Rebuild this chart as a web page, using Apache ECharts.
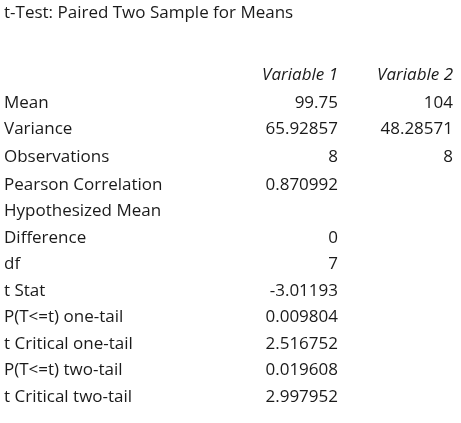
<!DOCTYPE html>
<html>
<head>
<meta charset="utf-8">
<script src="https://cdn.jsdelivr.net/npm/echarts@6/dist/echarts.min.js"></script>
<style>html,body{margin:0;padding:0;background:#fff;}</style>
</head>
<body>
<div id="container" style="width:461px;height:423px;"></div>
<script>
var title = 't-Test: Paired Two Sample for Means';
var headers = ['Variable 1', 'Variable 2'];
var rowLabels = ['Mean', 'Variance', 'Observations', 'Pearson Correlation', 'Hypothesized Mean',
  'Difference', 'df', 't Stat', 'P(T<=t) one-tail', 't Critical one-tail', 'P(T<=t) two-tail', 't Critical two-tail'];
var var1 = ['99.75', '65.92857', '8', '0.870992', '', '0', '7', '-3.01193', '0.009804', '2.516752', '0.019608', '2.997952'];
var var2 = ['104', '48.28571', '8', '', '', '', '', '', '', '', '', ''];

var font = '"Open Sans", "Noto Sans", sans-serif';
var rowY = [103, 129, 157, 185, 211, 238, 264, 291, 317, 344, 370, 397];
var g = [];
function txt(x, y, s, align, italic) {
  g.push({ type: 'text', x: x, y: y, style: { text: s, fill: '#1a1a1a', font: (italic ? 'italic ' : '') + '17px ' + font, textAlign: align, textVerticalAlign: 'middle' } });
}
txt(4, 13, title, 'left');
txt(338, 75, headers[0], 'right', true);
txt(453, 75, headers[1], 'right', true);
for (var i = 0; i < rowLabels.length; i++) {
  txt(4, rowY[i], rowLabels[i], 'left');
  txt(338, rowY[i], var1[i], 'right');
  txt(453, rowY[i], var2[i], 'right');
}
var myChart = echarts.init(document.getElementById('container'));
myChart.setOption({ animation: false, graphic: g });
</script>
</body>
</html>
